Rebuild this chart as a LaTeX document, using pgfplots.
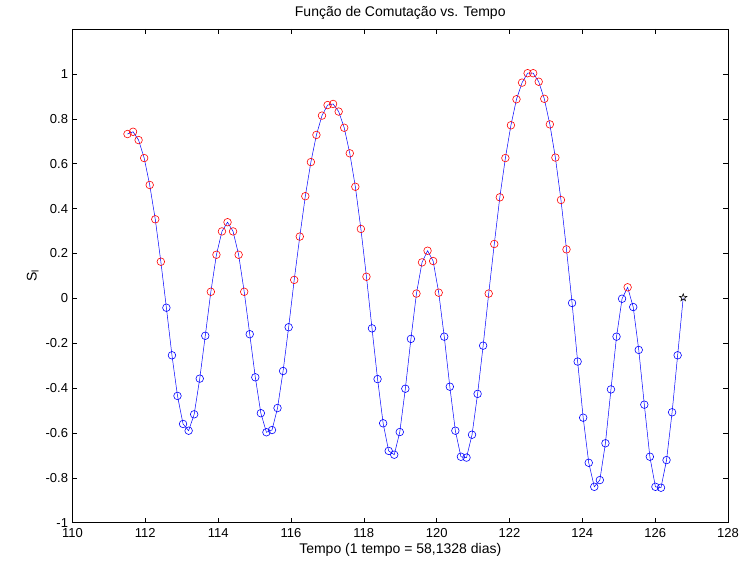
\documentclass[border=0pt]{standalone}
\usepackage{fontspec}
\setmainfont{Liberation Sans}
\usepackage{pgfplots}
\usepackage{pgfplotstable}
\pgfplotsset{compat=1.18}

\pgfdeclareplotmark{pstar}{%
  \pgfpathmoveto{\pgfpointpolar{90}{\pgfplotmarksize}}%
  \pgfpathlineto{\pgfpointpolar{126}{0.4\pgfplotmarksize}}%
  \pgfpathlineto{\pgfpointpolar{162}{\pgfplotmarksize}}%
  \pgfpathlineto{\pgfpointpolar{198}{0.4\pgfplotmarksize}}%
  \pgfpathlineto{\pgfpointpolar{234}{\pgfplotmarksize}}%
  \pgfpathlineto{\pgfpointpolar{270}{0.4\pgfplotmarksize}}%
  \pgfpathlineto{\pgfpointpolar{306}{\pgfplotmarksize}}%
  \pgfpathlineto{\pgfpointpolar{342}{0.4\pgfplotmarksize}}%
  \pgfpathlineto{\pgfpointpolar{18}{\pgfplotmarksize}}%
  \pgfpathlineto{\pgfpointpolar{54}{0.4\pgfplotmarksize}}%
  \pgfpathclose
  \pgfusepathqstroke
}

\pgfplotstableread{
x y c
111.510 0.732 r
111.663 0.742 r
111.815 0.705 r
111.968 0.625 r
112.120 0.505 r
112.273 0.352 r
112.426 0.163 r
112.578 -0.042 b
112.731 -0.254 b
112.883 -0.435 b
113.036 -0.560 b
113.189 -0.590 b
113.341 -0.517 b
113.494 -0.358 b
113.646 -0.167 b
113.799 0.029 r
113.952 0.194 r
114.104 0.298 r
114.257 0.339 r
114.409 0.298 r
114.562 0.194 r
114.715 0.029 r
114.867 -0.160 b
115.020 -0.352 b
115.172 -0.512 b
115.325 -0.597 b
115.478 -0.587 b
115.630 -0.489 b
115.783 -0.324 b
115.935 -0.129 b
116.088 0.082 r
116.241 0.275 r
116.393 0.455 r
116.546 0.607 r
116.698 0.728 r
116.851 0.814 r
117.004 0.861 r
117.156 0.866 r
117.309 0.832 r
117.461 0.760 r
117.614 0.646 r
117.767 0.497 r
117.919 0.309 r
118.072 0.096 r
118.224 -0.134 b
118.377 -0.360 b
118.530 -0.557 b
118.682 -0.680 b
118.835 -0.697 b
118.987 -0.596 b
119.140 -0.403 b
119.293 -0.181 b
119.445 0.021 r
119.598 0.160 r
119.750 0.212 r
119.903 0.166 r
120.056 0.025 r
120.208 -0.171 b
120.361 -0.394 b
120.513 -0.590 b
120.666 -0.706 b
120.819 -0.710 b
120.971 -0.608 b
121.124 -0.426 b
121.276 -0.211 b
121.429 0.021 r
121.582 0.242 r
121.734 0.450 r
121.887 0.625 r
122.039 0.771 r
122.192 0.887 r
122.345 0.961 r
122.497 1.003 r
122.650 1.003 r
122.802 0.965 r
122.955 0.889 r
123.108 0.775 r
123.260 0.627 r
123.413 0.438 r
123.565 0.218 r
123.718 -0.021 b
123.871 -0.282 b
124.023 -0.532 b
124.176 -0.733 b
124.328 -0.840 b
124.481 -0.810 b
124.634 -0.646 b
124.786 -0.406 b
124.939 -0.171 b
125.091 -0.002 b
125.244 0.049 r
125.397 -0.039 b
125.549 -0.230 b
125.702 -0.474 b
125.854 -0.706 b
126.007 -0.840 b
126.160 -0.844 b
126.312 -0.721 b
126.465 -0.508 b
126.617 -0.254 b
126.770 0.003 s
}\data

\begin{document}
\begin{tikzpicture}
\begin{axis}[
  name=ax,
  scale only axis,
  width=655.5bp, height=493.7bp,
  xmin=110, xmax=128, ymin=-1, ymax=1.2,
  xtick={110,112,114,116,118,120,122,124,126,128},
  ytick={-1,-0.8,-0.6,-0.4,-0.2,0,0.2,0.4,0.6,0.8,1},
  tick align=inside,
  major tick length=5bp,
  tick style={black, line width=0.5bp},
  axis line style={black, line width=0.6bp},
  ticklabel style={font=\fontsize{13bp}{15bp}\selectfont},
  xticklabel style={yshift=-2.5bp},
  yticklabel style={xshift=-1bp, /pgf/number format/fixed, /pgf/number format/precision=1},
  /pgf/number format/assume math mode=true,
  title={Função de Comutação vs. Tempo},
  title style={font=\fontsize{14bp}{16bp}\selectfont},
  xlabel={Tempo (1 tempo = 58,1328 dias)},
  xlabel style={yshift=1bp},
  ylabel={S\textsubscript{l}},
  label style={font=\fontsize{14bp}{16bp}\selectfont},
]
\addplot[blue, line width=0.5bp, no marks] table[x=x,y=y]{\data};
\addplot[scatter, only marks, scatter src=explicit symbolic,
  scatter/classes={r={mark=o,draw=red}, b={mark=o,draw=blue}, s={mark=pstar,draw=black}},
  mark size=3.8bp, line width=0.6bp] table[x=x,y=y,meta=c]{\data};
\end{axis}
\pgfresetboundingbox
\path[use as bounding box] ([shift={(-72.5bp,-44.3bp)}]ax.south west) rectangle ([shift={(11bp,29bp)}]ax.north east);
\end{tikzpicture}
\end{document}
